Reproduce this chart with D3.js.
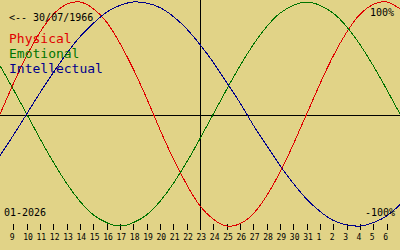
<!DOCTYPE html>
<html>
<head>
<meta charset="utf-8">
<script src="https://cdn.jsdelivr.net/npm/d3@7"></script>
<style>
  html, body { margin: 0; padding: 0; background: #e1d387; }
  svg { display: block; }
  text { font-family: 'DejaVu Sans Mono', monospace; }
</style>
</head>
<body>
<div id="chart"></div>
<script>
// day of month for each column, 08/01/2026 .. 07/02/2026 (today = 23/01)
const days = [8, 9, 10, 11, 12, 13, 14, 15, 16, 17, 18, 19, 20, 21, 22, 23,
  24, 25, 26, 27, 28, 29, 30, 31, 1, 2, 3, 4, 5, 6, 7];
const todayIndex = 15;

const physical = [0, 0.27, 0.52, 0.73, 0.89, 0.98, 1.0, 0.94, 0.82, 0.63, 0.4, 0.14,
  -0.14, -0.4, -0.63, -0.82, -0.94, -1.0, -0.98, -0.89, -0.73, -0.52, -0.27,
  0, 0.27, 0.52, 0.73, 0.89, 0.98, 1.0, 0.94];
const emotional = [0.43, 0.22, 0, -0.22, -0.43, -0.62, -0.78, -0.9, -0.97, -1.0,
  -0.97, -0.9, -0.78, -0.62, -0.43, -0.22,
  0, 0.22, 0.43, 0.62, 0.78, 0.9, 0.97, 1.0, 0.97, 0.9, 0.78, 0.62, 0.43, 0.22, 0];
const intellectual = [-0.37, -0.19, 0, 0.19, 0.37, 0.54, 0.69, 0.81, 0.91, 0.97,
  1.0, 0.99, 0.95, 0.87, 0.76, 0.62, 0.46, 0.28, 0.1, -0.1, -0.28, -0.46, -0.62,
  -0.76, -0.87, -0.95, -0.99, -1.0, -0.97, -0.91, -0.81];

const series = [
  { name: 'Physical', values: physical, color: '#e00000' },
  { name: 'Emotional', values: emotional, color: '#007400' },
  { name: 'Intellectual', values: intellectual, color: '#00008c' },
];

const width = 400;
const height = 250;

const svg = d3
  .select('#chart')
  .append('svg')
  .attr('width', width)
  .attr('height', height);

svg.append('rect').attr('width', width).attr('height', height).attr('fill', '#e1d387');

const x = d3.scaleLinear().domain([0, days.length - 1]).range([0, width]);
const y = d3.scaleLinear().domain([-1, 1]).range([226, 2]);

// zero line and today marker
svg
  .append('line')
  .attr('x1', 0)
  .attr('x2', width)
  .attr('y1', 115.5)
  .attr('y2', 115.5)
  .attr('stroke', '#000')
  .attr('shape-rendering', 'crispEdges');

svg
  .append('line')
  .attr('x1', x(todayIndex) + 0.5)
  .attr('x2', x(todayIndex) + 0.5)
  .attr('y1', 0)
  .attr('y2', 229)
  .attr('stroke', '#000')
  .attr('shape-rendering', 'crispEdges');

// day axis
const tickIdx = d3.range(1, days.length - 1);
const axis = svg
  .append('g')
  .attr('transform', 'translate(0, 224)')
  .call(
    d3
      .axisBottom(x)
      .tickValues(tickIdx)
      .tickFormat((i) => days[i])
      .tickSizeInner(6)
      .tickSizeOuter(0)
      .tickPadding(4)
  );
axis.select('.domain').remove();
axis
  .selectAll('.tick line')
  .attr('stroke', '#000')
  .attr('shape-rendering', 'crispEdges');
axis
  .selectAll('.tick text')
  .attr('text-anchor', 'start')
  .attr('dx', -4)
  .attr('fill', '#000')
  .style('font-size', '8px')
  .style('font-family', "'DejaVu Sans Mono', monospace");

// curves
const line = d3
  .line()
  .x((d, i) => x(i))
  .y((d) => y(d))
  .curve(d3.curveNatural);

svg
  .selectAll('path.bio')
  .data(series)
  .enter()
  .append('path')
  .attr('class', 'bio')
  .attr('d', (d) => line(d.values))
  .attr('fill', 'none')
  .attr('stroke', (d) => d.color)
  .attr('stroke-width', 1)
  .attr('shape-rendering', 'crispEdges');

// texts
svg
  .append('text')
  .attr('x', 9)
  .attr('y', 20.5)
  .style('font-size', '10px')
  .text('<-- 30/07/1966');

svg
  .selectAll('text.legend')
  .data(series)
  .enter()
  .append('text')
  .attr('class', 'legend')
  .attr('x', 9)
  .attr('y', (d, i) => 42.5 + i * 15)
  .attr('fill', (d) => d.color)
  .style('font-size', '13px')
  .text((d) => d.name);

svg
  .append('text')
  .attr('x', 394)
  .attr('y', 16)
  .attr('text-anchor', 'end')
  .style('font-size', '10px')
  .text('100%');

svg
  .append('text')
  .attr('x', 395)
  .attr('y', 216)
  .attr('text-anchor', 'end')
  .style('font-size', '10px')
  .text('-100%');

svg
  .append('text')
  .attr('x', 4)
  .attr('y', 216)
  .style('font-size', '10px')
  .text('01-2026');
</script>
</body>
</html>
